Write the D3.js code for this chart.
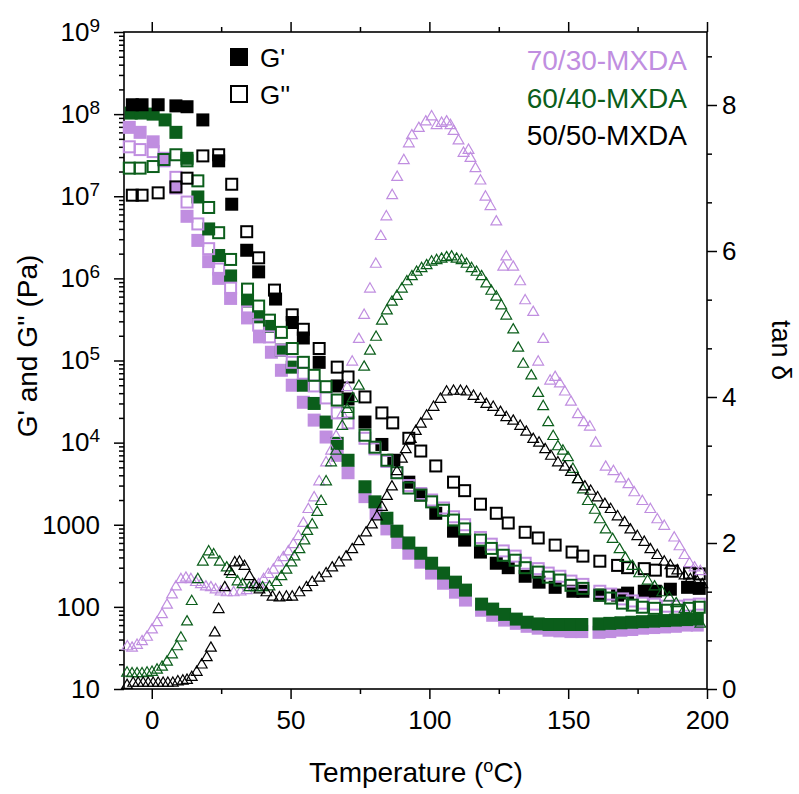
<!DOCTYPE html>
<html>
<head>
<meta charset="utf-8">
<script src="https://cdn.jsdelivr.net/npm/d3@7"></script>
<style>
  body { margin: 0; background: #fff; }
  svg { display: block; }
  text { font-family: "Liberation Sans", Arial, sans-serif; }
</style>
</head>
<body>
<svg id="chart" width="799" height="794"></svg>
<script>
// colours of the three blends
const PURPLE = "#c08ee0", GREEN = "#0b5e1b", BLACK = "#000";

// [temperature (C), modulus (Pa)]  -- G' filled squares
const gp7030 = [[-8.1,6.9e7],[-4.2,6.0e7],[0.5,4.6e7],[4.4,2.7e7],[8.7,1.26e7],[12.7,5.7e6],[16.6,2.9e6],[20.5,1.6e6],[24.1,1.0e6],[28.4,5.7e5],[34.5,3.3e5],[38.8,1.94e5],[43.1,1.26e5],[46.7,7.6e4],[50.6,5.0e4],[54.6,3.1e4],[58.5,1.88e4],[62.8,1.17e4],[66.8,7.0e3],[70.7,4.3e3],[76.8,2.2e3],[80.8,1.38e3],[84.7,890],[88.6,610],[92.6,450],[96.9,350],[100.8,258],[105.1,194],[109.4,151],[113.0,121],[118.8,91],[122.8,79],[127.1,69],[131.3,63],[135.2,58],[139.2,55],[143.1,52],[147.0,51],[151.0,50],[154.9,50],[161.1,49],[165.0,50],[169.0,52],[172.9,53],[176.8,55],[180.8,56],[184.7,57],[188.6,58],[192.6,60],[196.5,60]];
const gp6040 = [[-7.4,1.03e8],[-3.8,1.03e8],[0.5,1.0e8],[4.8,8.5e7],[8.7,6.0e7],[12.7,2.9e7],[16.6,9.8e6],[20.5,4.0e6],[24.1,1.9e6],[28.4,1.07e6],[34.5,5.3e5],[38.5,3.4e5],[42.4,2.6e5],[46.7,1.34e5],[50.6,8.3e4],[54.6,5.0e4],[58.5,3.0e4],[62.8,1.78e4],[66.8,9.8e3],[70.7,6.1e3],[76.8,2.9e3],[80.4,1.9e3],[84.7,1.2e3],[88.3,835],[92.6,600],[96.9,450],[100.8,340],[105.1,258],[109.4,200],[113.0,160],[118.8,108],[122.8,94],[127.1,81],[131.3,71],[135.2,65],[139.2,62],[143.1,61],[147.0,61],[151.0,61],[154.9,61],[161.1,62],[165.0,63],[169.0,64],[172.9,65],[176.8,66],[180.8,67],[184.7,68],[188.6,69],[192.6,70],[196.5,71]];
const gp5050 = [[-7.0,1.3e8],[-3.5,1.3e8],[2.3,1.3e8],[8.7,1.26e8],[12.7,1.23e8],[18.4,8.5e7],[24.1,2.7e7],[28.8,8.0e6],[34.2,2.2e6],[38.5,1.2e6],[44.6,5.6e5],[50.6,2.9e5],[54.6,1.88e5],[60.3,9.5e4],[66.8,4.9e4],[70.7,3.4e4],[76.8,1.78e4],[82.9,9.5e3],[87.2,6.1e3],[92.6,3.3e3],[96.9,2.3e3],[102.3,1.38e3],[108.7,835],[112.7,650],[118.4,465],[124.1,340],[128.4,300],[134.5,236],[139.5,200],[145.3,173],[151.7,155],[155.3,155],[161.4,139],[167.8,139],[171.4,147],[177.4,155],[181.4,155],[186.8,164],[193.0,173],[197.2,168]];

// G'' open squares
const gpp7030 = [[-8.1,4.0e7],[-4.2,3.7e7],[0.5,3.5e7],[4.4,2.9e7],[8.7,1.7e7],[12.7,8.5e6],[16.6,4.6e6],[20.5,2.3e6],[24.1,1.3e6],[28.4,7.6e5],[34.5,3.9e5],[38.5,2.7e5],[42.4,1.94e5],[46.7,1.34e5],[50.6,9.5e4],[54.6,7.0e4],[58.5,4.9e4],[62.8,3.5e4],[66.8,2.3e4],[70.7,1.74e4],[76.8,1.13e4],[80.4,8.4e3],[84.7,5.9e3],[88.3,4.3e3],[92.6,3.0e3],[96.9,2.4e3],[100.8,2.0e3],[105.1,1.6e3],[108.7,1.25e3],[112.7,1.0e3],[118.4,700],[122.3,580],[126.6,480],[130.9,415],[134.5,340],[139.2,292],[142.8,258],[147.0,236],[151.0,206],[155.3,188],[161.4,155],[165.3,143],[169.6,125],[173.1,118],[176.7,111],[181.1,108],[185.7,102],[189.3,102],[193.7,105],[197.2,108]];
const gpp6040 = [[-8.1,2.2e7],[-4.2,2.2e7],[0.5,2.3e7],[4.4,2.8e7],[8.7,3.2e7],[12.7,2.7e7],[16.6,1.54e7],[20.5,7.3e6],[24.1,3.6e6],[28.4,1.7e6],[34.5,7.4e5],[38.5,4.6e5],[42.4,3.1e5],[46.7,2.2e5],[50.6,1.4e5],[54.6,9.5e4],[58.5,6.6e4],[62.8,4.8e4],[66.8,3.3e4],[70.7,2.3e4],[76.8,1.23e4],[80.4,8.8e3],[84.7,6.1e3],[88.3,4.3e3],[92.6,2.8e3],[96.9,2.3e3],[100.8,1.9e3],[105.1,1.5e3],[108.7,1.14e3],[112.7,890],[118.4,650],[122.3,515],[126.6,425],[130.9,370],[134.5,300],[139.2,265],[142.8,230],[147.0,212],[151.0,183],[155.3,168],[161.4,139],[165.3,128],[169.6,111],[173.1,105],[176.7,99],[181.1,96],[185.7,91],[189.3,91],[193.7,96],[197.2,99]];
const gpp5050 = [[-7.0,1.03e7],[-3.5,1.03e7],[2.3,1.1e7],[8.7,1.3e7],[12.7,1.66e7],[18.4,3.1e7],[24.1,3.2e7],[28.8,1.4e7],[34.2,3.7e6],[38.5,1.78e6],[44.2,7.2e5],[50.6,3.6e5],[54.6,2.4e5],[60.3,1.4e5],[66.8,8.3e4],[70.7,6.3e4],[76.8,3.6e4],[82.9,2.3e4],[86.8,1.74e4],[92.6,1.13e4],[96.9,7.9e3],[102.3,5.2e3],[108.7,3.3e3],[112.7,2.6e3],[118.4,1.78e3],[124.1,1.38e3],[128.4,1.05e3],[134.5,810],[139.2,690],[145.3,565],[151.4,465],[155.3,415],[161.4,360],[167.8,320],[171.4,300],[177.4,292],[181.4,280],[187.5,272],[193.7,258],[197.2,252]];

// tan delta, open triangles (right axis)
const tan7030 = [[-8.8,0.58],[-7.1,0.56],[-5.3,0.60],[-3.5,0.65],[-1.7,0.71],[0.1,0.81],[1.9,0.91],[3.7,1.02],[5.5,1.15],[7.3,1.29],[8.7,1.40],[10.5,1.50],[12.3,1.52],[14.1,1.50],[15.9,1.46],[17.7,1.43],[19.5,1.40],[21.3,1.39],[23.0,1.36],[24.8,1.33],[27.0,1.32],[29.5,1.32],[32.0,1.33],[34.2,1.35],[36.7,1.39],[38.5,1.43],[40.3,1.50],[42.0,1.57],[43.8,1.63],[45.6,1.73],[47.4,1.80],[49.2,1.88],[51.0,1.98],[52.8,2.09],[54.6,2.27],[56.4,2.46],[58.5,2.62],[60.3,2.84],[62.8,3.10],[64.6,3.26],[66.4,3.46],[68.6,3.76],[70.4,4.13],[72.2,4.48],[74.6,4.79],[76.5,5.12],[78.6,5.48],[80.7,5.82],[82.5,6.20],[84.5,6.47],[86.6,6.76],[88.4,7.01],[90.8,7.24],[92.6,7.47],[93.7,7.58],[96.2,7.68],[98.7,7.77],[100.8,7.84],[102.6,7.72],[104.4,7.75],[106.2,7.77],[107.6,7.72],[108.7,7.64],[110.5,7.51],[112.3,7.34],[114.1,7.38],[114.8,7.27],[116.6,7.13],[118.4,6.96],[120.2,6.74],[122.0,6.61],[124.1,6.40],[126.6,5.78],[127.7,5.92],[130.2,5.78],[132.7,5.58],[134.5,5.32],[137.4,5.16],[139.2,4.48],[141.0,4.79],[143.5,4.22],[145.3,4.27],[147.0,4.18],[148.8,4.07],[151.0,3.93],[153.5,3.76],[155.6,3.65],[157.8,3.59],[159.9,3.37],[163.5,3.04],[166.3,2.98],[168.9,2.88],[171.7,2.80],[173.8,2.69],[176.7,2.57],[179.6,2.46],[182.1,2.32],[184.6,2.23],[188.2,2.07],[190.1,1.95],[191.9,1.83],[193.7,1.72],[195.5,1.66],[197.6,1.61]];
const tan6040 = [[-8.9,0.22],[-7.1,0.21],[-5.3,0.21],[-3.5,0.21],[-1.7,0.22],[0.1,0.23],[1.9,0.26],[3.7,0.30],[5.5,0.37],[7.3,0.47],[9.1,0.58],[10.5,0.70],[12.7,0.92],[14.4,1.20],[16.6,1.50],[18.4,1.74],[20.5,1.88],[22.3,1.84],[24.5,1.74],[27.0,1.66],[28.8,1.57],[30.9,1.47],[32.7,1.43],[35.2,1.39],[37.7,1.39],[39.9,1.39],[42.4,1.40],[44.9,1.46],[46.7,1.54],[48.5,1.63],[50.3,1.73],[51.4,1.81],[53.2,1.91],[55.0,2.03],[56.0,2.16],[57.8,2.25],[59.6,2.42],[61.0,2.57],[62.8,2.84],[64.6,3.10],[66.4,3.26],[68.6,3.60],[70.4,3.83],[72.4,3.98],[74.6,4.15],[76.5,4.41],[78.6,4.63],[80.8,4.82],[82.9,5.04],[84.7,5.18],[86.5,5.30],[88.3,5.38],[90.1,5.48],[91.9,5.58],[93.7,5.65],[95.4,5.71],[97.2,5.76],[99.0,5.80],[100.8,5.85],[102.6,5.87],[104.4,5.89],[106.2,5.91],[108.0,5.92],[109.8,5.89],[111.6,5.87],[113.4,5.82],[115.2,5.76],[117.0,5.71],[118.8,5.65],[120.5,5.55],[122.3,5.45],[124.1,5.37],[125.9,5.25],[127.7,5.11],[130.2,4.92],[132.0,4.67],[133.8,4.45],[136.7,4.29],[139.2,4.05],[141.0,3.87],[142.8,3.65],[144.6,3.46],[146.3,3.32],[148.1,3.26],[149.9,3.17],[151.7,3.01],[153.5,2.87],[155.3,2.73],[157.1,2.57],[159.6,2.45],[161.4,2.32],[163.5,2.18],[166.0,2.05],[168.5,1.91],[170.6,1.79],[173.1,1.68],[175.6,1.58],[178.6,1.48],[181.1,1.40],[183.9,1.32],[186.4,1.25],[188.9,1.17],[191.9,1.09],[194.7,0.99],[197.6,0.89]];
const tan5050 = [[-8.9,0.05],[-6.7,0.08],[-4.9,0.08],[-3.1,0.08],[-1.3,0.08],[0.5,0.08],[2.3,0.08],[4.1,0.08],[5.8,0.08],[7.6,0.08],[9.4,0.10],[11.2,0.11],[12.7,0.12],[14.4,0.16],[16.2,0.23],[18.0,0.33],[19.8,0.43],[21.3,0.56],[22.7,0.77],[24.1,1.09],[26.3,1.39],[28.1,1.61],[29.9,1.73],[31.6,1.74],[33.4,1.68],[35.2,1.54],[37.0,1.43],[38.8,1.36],[41.3,1.32],[43.5,1.26],[46.0,1.25],[48.5,1.26],[50.6,1.26],[53.2,1.32],[55.7,1.39],[57.8,1.46],[60.3,1.52],[62.8,1.58],[65.0,1.66],[67.5,1.73],[70.0,1.81],[72.2,1.91],[74.6,2.02],[77.2,2.14],[79.3,2.25],[81.1,2.36],[82.9,2.49],[84.7,2.64],[86.5,2.77],[88.3,2.98],[90.1,3.15],[91.5,3.28],[93.3,3.42],[95.1,3.53],[96.9,3.63],[99.0,3.74],[101.5,3.86],[104.0,3.97],[106.2,4.07],[108.7,4.08],[111.2,4.08],[113.4,4.07],[115.9,4.01],[118.4,3.97],[120.5,3.90],[123.0,3.86],[125.6,3.79],[127.7,3.72],[130.2,3.67],[132.7,3.60],[134.9,3.52],[137.4,3.42],[139.5,3.37],[141.7,3.28],[143.8,3.19],[146.3,3.10],[148.8,3.04],[151.0,2.97],[153.5,2.87],[156.0,2.77],[158.1,2.71],[160.6,2.62],[163.2,2.53],[165.3,2.46],[167.8,2.36],[170.3,2.28],[172.4,2.18],[174.9,2.09],[177.4,2.01],[179.6,1.91],[182.1,1.83],[184.6,1.74],[186.8,1.69],[189.3,1.62],[191.9,1.55],[194.0,1.50],[196.5,1.47],[198.3,1.43]];

// ticks
const xTicks = [0, 50, 100, 150, 200];
const xMinor = [25, 75, 125, 175];
const gTicks = [1e1, 1e2, 1e3, 1e4, 1e5, 1e6, 1e7, 1e8, 1e9];
const tanTicks = [0, 2, 4, 6, 8];
const tanMinor = [2/3, 4/3, 8/3, 10/3, 14/3, 16/3, 20/3, 22/3, 26/3];
const blends = ["70/30-MXDA", "60/40-MXDA", "50/50-MXDA"];
const blendColors = [PURPLE, GREEN, BLACK];

const svg = d3.select("#chart");
const x = d3.scaleLinear().domain([-10, 200]).range([124, 707]);
const yG = d3.scaleLog().domain([10, 1e9]).range([689, 32]);
const yT = d3.scaleLinear().domain([0, 9]).range([689, 32]);

// log minor ticks 2..9 per decade
const gMinor = [];
gTicks.slice(0, -1).forEach(d => { for (let k = 2; k < 10; k++) gMinor.push(k * d); });

function axis(gen, tx, ty, values, size, pad, fmt) {
    const g = svg.append("g").attr("transform", `translate(${tx},${ty})`)
        .call(gen.tickValues(values).tickSize(size).tickSizeOuter(0).tickPadding(pad).tickFormat(fmt));
    g.select(".domain").remove();
    g.selectAll("line").attr("stroke-width", 1.5);
    g.attr("font-size", 26).attr("font-family", null);
    return g;
}

axis(d3.axisBottom(x), 0, 689, xTicks, 10, 12, d3.format("d"));
axis(d3.axisBottom(x), 0, 689, xMinor, 5, 0, "");
axis(d3.axisTop(x), 0, 32, xTicks, 10, 0, "");
axis(d3.axisTop(x), 0, 32, xMinor, 5, 0, "");

const left = axis(d3.axisLeft(yG), 124, 0, gTicks, 10, 14, d => String(d));
axis(d3.axisLeft(yG), 124, 0, gMinor, 5, 0, "");
left.selectAll(".tick text").each(function(d) {
    if (d < 1e4) return;
    const t = d3.select(this).text("10");
    t.append("tspan").attr("dy", -9).attr("font-size", 19).text(Math.round(Math.log10(d)));
});

axis(d3.axisRight(yT), 707, 0, tanTicks, 10, 5, d3.format("d"));
axis(d3.axisRight(yT), 707, 0, tanMinor, 5, 0, "");

// frame
svg.append("rect").attr("x", 124).attr("y", 32).attr("width", 583).attr("height", 657)
    .attr("fill", "none").attr("stroke", "#000").attr("stroke-width", 1.6);

// markers
function filledSquares(data, color) {
    svg.append("g").selectAll("rect").data(data).join("rect")
        .attr("x", d => x(d[0]) - 6.5).attr("y", d => yG(d[1]) - 6.5)
        .attr("width", 13).attr("height", 13).attr("fill", color);
}
function openSquares(data, color) {
    svg.append("g").selectAll("rect").data(data).join("rect")
        .attr("x", d => x(d[0]) - 5.5).attr("y", d => yG(d[1]) - 5.5)
        .attr("width", 11).attr("height", 11)
        .attr("fill", "none").attr("stroke", color).attr("stroke-width", 2);
}
const tri = d3.symbol(d3.symbolTriangle, 50);
function triangles(data, color) {
    svg.append("g").selectAll("path").data(data).join("path")
        .attr("d", tri)
        .attr("transform", d => `translate(${x(d[0])},${yT(d[1])})`)
        .attr("fill", "none").attr("stroke", color).attr("stroke-width", 1.2);
}

filledSquares(gp7030, PURPLE);
filledSquares(gp6040, GREEN);
filledSquares(gp5050, BLACK);
openSquares(gpp7030, PURPLE);
openSquares(gpp6040, GREEN);
openSquares(gpp5050, BLACK);
triangles(tan7030, PURPLE);
triangles(tan6040, GREEN);
triangles(tan5050, BLACK);

// legends
svg.append("rect").attr("x", 230).attr("y", 48).attr("width", 18).attr("height", 18).attr("fill", BLACK);
svg.append("rect").attr("x", 231).attr("y", 86).attr("width", 16).attr("height", 16)
    .attr("fill", "none").attr("stroke", BLACK).attr("stroke-width", 2);
svg.append("text").attr("x", 260).attr("y", 67).attr("font-size", 26).text("G'");
svg.append("text").attr("x", 260).attr("y", 104).attr("font-size", 26).text("G''");

svg.append("g").selectAll("text").data(blends).join("text")
    .attr("x", 687).attr("y", (d, i) => 70 + i * 37.5)
    .attr("text-anchor", "end").attr("font-size", 28)
    .attr("fill", (d, i) => blendColors[i]).text(d => d);

// axis titles
const xt = svg.append("text").attr("x", 416).attr("y", 782).attr("text-anchor", "middle").attr("font-size", 28);
xt.append("tspan").text("Temperature (");
xt.append("tspan").attr("dy", -10).attr("font-size", 18).text("o");
xt.append("tspan").attr("dy", 10).text("C)");

svg.append("text").attr("transform", "translate(37,346) rotate(-90)")
    .attr("text-anchor", "middle").attr("font-size", 28).text("G' and G'' (Pa)");
svg.append("text").attr("transform", "translate(772,350) rotate(90)")
    .attr("text-anchor", "middle").attr("font-size", 27).text("tan δ");
</script>
</body>
</html>
